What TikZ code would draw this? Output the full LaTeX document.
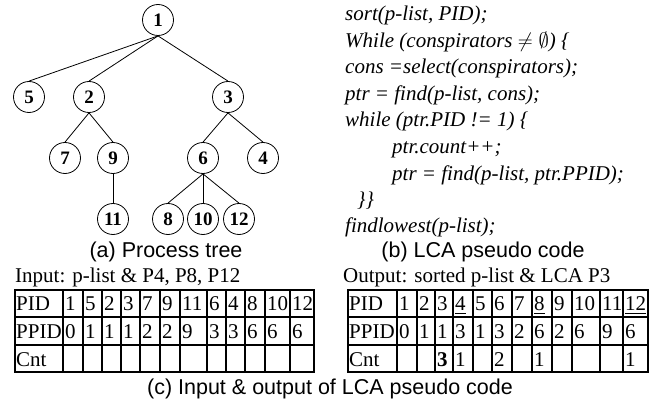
\documentclass[tikz,border=0pt]{standalone}
\usepackage{amssymb}
\usepackage{fontspec}
\setmainfont{Liberation Serif}
\newfontfamily\capfont{Liberation Sans}
\usetikzlibrary{positioning}

\begin{document}
\begin{tikzpicture}[
    x=1pt,y=-1pt,
    proc/.style={draw, circle, minimum size=31pt, inner sep=0pt, line width=0.8pt,
                 font=\fontsize{19}{19}\selectfont\bfseries},
    link/.style={line width=0.8pt},
    code/.style={anchor=base west, inner sep=0pt, font=\fontsize{21}{24}\selectfont\itshape},
    caption/.style={inner sep=0pt, font=\fontsize{21.5}{24}\selectfont\capfont},
    label/.style={anchor=base west, inner sep=0pt, font=\fontsize{21}{24}\selectfont},
    cell/.style={anchor=base west, inner sep=0pt, font=\fontsize{21}{24}\selectfont},
    grid/.style={line width=1.8pt}
]
\useasboundingbox (0,0) rectangle (657,404);

\node[proc] (p1) at (158,20) {1};
\node[proc] (p5) at (29,97) {5};
\node[proc] (p2) at (89,97) {2};
\node[proc] (p3) at (228,97) {3};
\node[proc] (p7) at (65,158) {7};
\node[proc] (p9) at (113,158) {9};
\node[proc] (p6) at (203,158) {6};
\node[proc] (p4) at (263,158) {4};
\node[proc] (p11) at (113,219) {11};
\node[proc] (p8) at (168,219) {8};
\node[proc] (p10) at (203,219) {10};
\node[proc] (p12) at (239,219) {12};
\foreach \a/\b in {p1/p5, p1/p2, p1/p3, p2/p7, p2/p9, p3/p6, p3/p4, p9/p11, p6/p8, p6/p10, p6/p12}
  \draw[link] (\a.south) -- (\b.north);
\node[caption] (capa) at (166,252) {(a) Process tree};

\node[code] (code1) at (345,21) {sort(p-list, PID);};
\node[code] (code2) at (345,47.5) {While (conspirators $\neq\emptyset$) \{};
\node[code] (code3) at (345,74) {cons =select(conspirators);};
\node[code] (code4) at (345,100.5) {ptr = find(p-list, cons);};
\node[code] (code5) at (345,127) {while (ptr.PID != 1) \{};
\node[code] (code6) at (392,153.5) {ptr.count++;};
\node[code] (code7) at (392,180) {ptr = find(p-list, ptr.PPID);};
\node[code] (code8) at (357,206.5) {\}\}};
\node[code] (code9) at (345,233) {findlowest(p-list);};
\node[caption] (capb) at (483,252) {(b) LCA pseudo code};

\node[label] (inlabel) at (15,282) {Input: p-list \& P4, P8, P12};
\draw[grid] (15,290) rectangle (314,372);
\draw[grid] (15,317) -- (314,317) (15,345) -- (314,345);
\node[cell] (in-head-1) at (16,310) {PID};
\node[cell] (in-head-2) at (16,338) {PPID};
\node[cell] (in-head-3) at (16,366) {Cnt};
\foreach \xa/\pid/\ppid [count=\i] in {63/1/0, 83/5/1, 102/2/1, 121/3/1, 140/7/2, 160/9/2,
    180/11/9, 207/6/3, 226/4/3, 245/8/6, 265/10/6, 290/12/6} {
  \draw[grid] (\xa,290) -- (\xa,372);
  \node[cell] (in-pid-\i) at (\xa+2,310) {\pid};
  \node[cell] (in-ppid-\i) at (\xa+2,338) {\ppid};
}

\node[label] (outlabel) at (343,282) {Output: sorted p-list \& LCA P3};
\draw[grid] (348,290) rectangle (648,372);
\draw[grid] (348,317) -- (648,317) (348,345) -- (648,345);
\node[cell] (out-head-1) at (349,310) {PID};
\node[cell] (out-head-2) at (349,338) {PPID};
\node[cell] (out-head-3) at (349,366) {Cnt};
\foreach \xa/\pid/\ppid [count=\i] in {397/1/0, 417/2/1, 435/3/1, 453/{\underline{4}}/3,
    473/5/1, 492/6/3, 512/7/2, 532/{\underline{8}}/6, 552/9/2, 572/10/6, 600/11/9,
    623/{\underline{12}}/6} {
  \draw[grid] (\xa,290) -- (\xa,372);
  \node[cell] (out-pid-\i) at (\xa+2,310) {\pid};
  \node[cell] (out-ppid-\i) at (\xa+2,338) {\ppid};
}
\foreach \xa/\i/\cnt in {435/3/{\textbf{3}}, 453/4/1, 492/6/2, 532/8/1, 623/12/1}
  \node[cell] (out-cnt-\i) at (\xa+2,366) {\cnt};

\node[caption] (capc) at (330,389) {(c) Input \& output of LCA pseudo code};
\end{tikzpicture}
\end{document}
